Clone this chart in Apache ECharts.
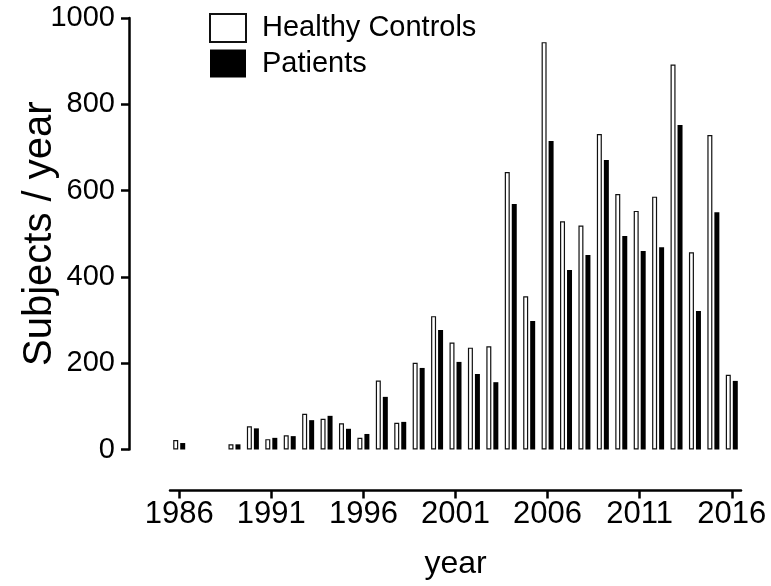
<!DOCTYPE html>
<html>
<head>
<meta charset="utf-8">
<script src="https://cdn.jsdelivr.net/npm/echarts@6/dist/echarts.min.js"></script>
<style>
  html, body { margin: 0; padding: 0; background: #fff; }
  #chart { width: 771px; height: 586px; }
</style>
</head>
<body>
<div id="chart"></div>
<script>
// Subjects recruited per year, 1986-2016
const years = ['1986','1987','1988','1989','1990','1991','1992','1993','1994','1995',
  '1996','1997','1998','1999','2000','2001','2002','2003','2004','2005',
  '2006','2007','2008','2009','2010','2011','2012','2013','2014','2015','2016'];

const healthyControls = [22, null, null, 12, 54, 24, 33, 83, 71, 61,
  27, 160, 62, 201, 309, 248, 236, 239, 643, 355,
  944, 529, 519, 731, 592, 553, 586, 892, 457, 729, 173];

const patients = [15, null, null, 12, 49, 27, 31, 68, 78, 48,
  36, 122, 64, 189, 277, 203, 175, 156, 569, 298,
  715, 416, 451, 671, 495, 460, 469, 752, 321, 550, 159];

const yTicks = [0, 200, 400, 600, 800, 1000];

const FONT = '"Liberation Sans", Arial, sans-serif';

const chart = echarts.init(document.getElementById('chart'), null, { renderer: 'canvas' });

chart.setOption({
  animation: false,
  backgroundColor: '#fff',
  textStyle: { fontFamily: FONT, color: '#000' },
  legend: {
    left: 209,
    top: 13,
    orient: 'vertical',
    itemWidth: 36,
    itemHeight: 28,
    itemGap: 6,
    padding: 0,
    icon: 'rect',
    textStyle: { fontFamily: FONT, fontSize: 29, color: '#000', padding: [0, 0, 0, 11] },
    data: ['Healthy Controls', 'Patients']
  },
  grid: { left: 170, right: 30, top: 18, bottom: 136.5, containLabel: false },
  xAxis: {
    type: 'category',
    data: years,
    boundaryGap: true,
    offset: 41,
    name: 'year',
    nameLocation: 'middle',
    nameGap: 58,
    nameTextStyle: { fontFamily: FONT, fontSize: 32, color: '#000' },
    axisLine: { show: true, onZero: false, lineStyle: { color: '#000', width: 2.5 } },
    axisTick: { show: true, alignWithLabel: true, interval: 4, length: 8, lineStyle: { color: '#000', width: 2.5 } },
    axisLabel: { interval: 4, fontFamily: FONT, fontSize: 31, color: '#000', margin: 8 },
    splitLine: { show: false }
  },
  yAxis: {
    type: 'value',
    min: yTicks[0],
    max: yTicks[yTicks.length - 1],
    interval: yTicks[1] - yTicks[0],
    offset: 41,
    name: 'Subjects / year',
    nameLocation: 'middle',
    nameGap: 89,
    nameRotate: 90,
    nameMoveOverlap: false,
    nameTextStyle: { fontFamily: FONT, fontSize: 40, color: '#000', verticalAlign: 'middle' },
    axisLine: { show: true, onZero: false, lineStyle: { color: '#000', width: 2.5 } },
    axisTick: { show: true, length: 8, lineStyle: { color: '#000', width: 2.5 } },
    axisLabel: {
      fontFamily: FONT, fontSize: 29, color: '#000', margin: 14,
      formatter: (v) => String(v)
    },
    splitLine: { show: false }
  },
  series: [
    {
      name: 'Healthy Controls',
      type: 'bar',
      data: healthyControls,
      barWidth: 5,
      barGap: '40%',
      itemStyle: { color: '#fff', borderColor: '#111', borderWidth: 1.2 }
    },
    {
      name: 'Patients',
      type: 'bar',
      data: patients,
      barWidth: 5,
      itemStyle: { color: '#000' }
    }
  ]
});
</script>
</body>
</html>
